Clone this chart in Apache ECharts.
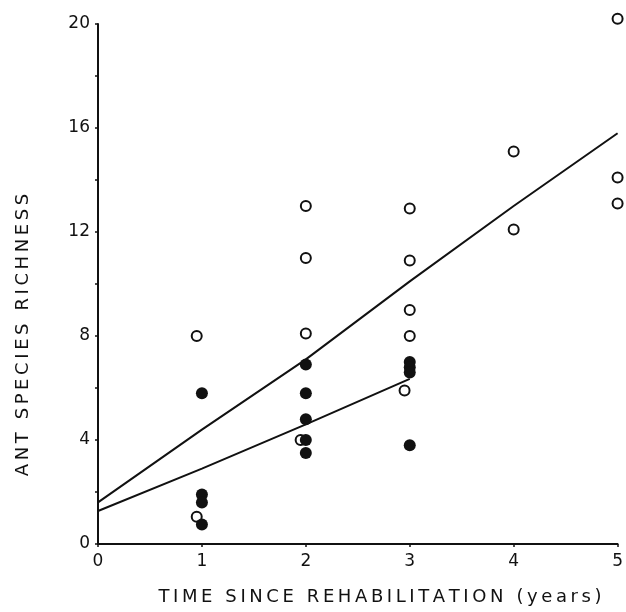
<!DOCTYPE html>
<html>
<head>
<meta charset="utf-8">
<script src="https://cdn.jsdelivr.net/npm/echarts@6/dist/echarts.min.js"></script>
<style>html,body{margin:0;padding:0;background:#fff}#c{width:626px;height:612px}</style>
</head>
<body>
<div id="c"></div>
<script>
// open circles (x, richness)
var openPts = [[0.95,8.0],[0.95,1.05],[2,13.0],[2,11.0],[2,8.1],[1.95,4.0],[3,12.9],[3,10.9],[3,9.0],[3,8.0],[2.95,5.9],[4,15.1],[4,12.1],[5,20.2],[5,14.1],[5,13.1]];
// filled circles
var filledPts = [[1,5.8],[1,1.9],[1,1.6],[1,0.75],[2,6.9],[2,5.8],[2,4.8],[2,4.0],[2,3.5],[3,7.0],[3,6.8],[3,6.6],[3,3.8]];
// fitted lines
var upperLine = [[0,1.6],[1,4.4],[2,7.1],[3,10.1],[4,13.0],[5,15.8]];
var lowerLine = [[0,1.27],[1,2.9],[2,4.6],[3,6.35]];
var xTicks = [0,1,2,3,4,5];
var yTicks = [0,4,8,12,16,20];
var xTitle = 'TIME SINCE REHABILITATION (years)';
var yTitle = 'ANT SPECIES RICHNESS';

function spaced(s){ return s.split('').join('\u2009'); }

var chart = echarts.init(document.getElementById('c'));
var font = 'DejaVu Sans';
chart.setOption({
  animation: false,
  backgroundColor: '#fff',
  grid: {left: 98, top: 24, right: 8, bottom: 68},
  graphic: [
    {type: 'text', x: 380, y: 597, style: {text: spaced(xTitle), fontFamily: font, fontSize: 18,
      fill: '#111', align: 'center', verticalAlign: 'middle'}},
    {type: 'text', x: 23, y: 335, rotation: Math.PI / 2, style: {text: spaced(yTitle), fontFamily: font, fontSize: 18,
      fill: '#111', align: 'center', verticalAlign: 'middle'}}
  ],
  xAxis: {
    type: 'value', min: 0, max: 5, interval: 1,
    axisLine: {lineStyle: {color: '#111', width: 2}},
    axisTick: {show: true, length: 3, lineStyle: {color: '#111', width: 1.5}},
    splitLine: {show: false},
    axisLabel: {fontFamily: font, fontSize: 17, color: '#111', margin: 9,
      formatter: function(v){ return xTicks.indexOf(v) >= 0 ? String(v) : ''; }}
  },
  yAxis: {
    type: 'value', min: 0, max: 20, interval: 2,
    axisLine: {show: true, lineStyle: {color: '#111', width: 2}},
    axisTick: {show: true, length: 3, lineStyle: {color: '#111', width: 1.5}},
    splitLine: {show: false},
    axisLabel: {fontFamily: font, fontSize: 17, color: '#111', margin: 8,
      formatter: function(v){ return yTicks.indexOf(v) >= 0 ? String(v) : ''; }}
  },
  series: [
    {type: 'line', data: upperLine, showSymbol: false, smooth: false,
      lineStyle: {color: '#111', width: 2}, z: 2},
    {type: 'line', data: lowerLine, showSymbol: false, smooth: false,
      lineStyle: {color: '#111', width: 2}, z: 2},
    {type: 'scatter', data: openPts, symbol: 'circle', symbolSize: 10, clip: false,
      itemStyle: {color: '#fff', borderColor: '#111', borderWidth: 2, opacity: 1}, z: 3},
    {type: 'scatter', data: filledPts, symbol: 'circle', symbolSize: 12, clip: false,
      itemStyle: {color: '#111', opacity: 1}, z: 4}
  ]
});
</script>
</body>
</html>
